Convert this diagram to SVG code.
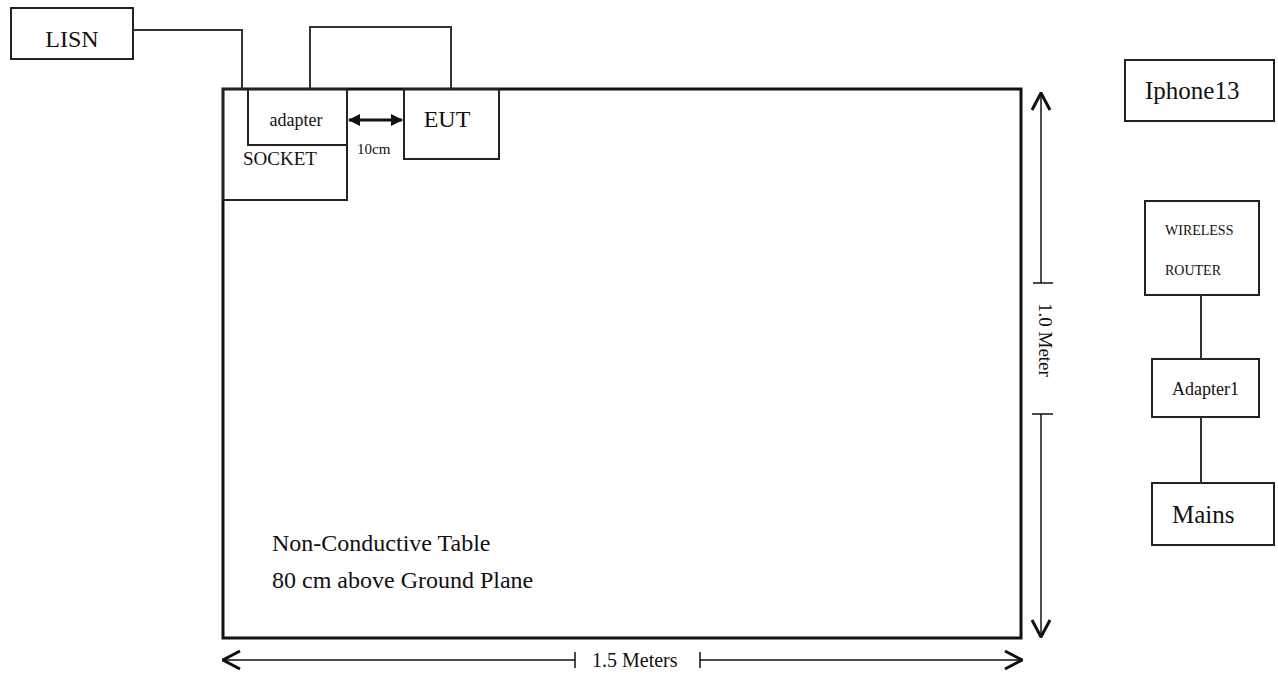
<svg xmlns="http://www.w3.org/2000/svg" width="1278" height="675" viewBox="0 0 1278 675">
<defs>
<style>
.box{fill:none;stroke:#222;stroke-width:2}
.ln{fill:none;stroke:#333;stroke-width:2}
.t{font-family:"Liberation Serif","Times New Roman",serif;fill:#111}
</style>
<marker id="ah" viewBox="0 0 20 22" refX="19" refY="11" markerWidth="20" markerHeight="22" markerUnits="userSpaceOnUse" orient="auto-start-reverse">
<path d="M2,2 L19,11 L2,20" fill="none" stroke="#111" stroke-width="3"/>
</marker>
<marker id="fa" viewBox="0 0 12 12" refX="11" refY="6" markerWidth="12" markerHeight="12" markerUnits="userSpaceOnUse" orient="auto-start-reverse">
<path d="M0,0 L12,6 L0,12 Z" fill="#111"/>
</marker>
</defs>
<rect width="1278" height="675" fill="#fff"/>
<g id="table">
<rect x="223" y="89" width="798" height="549" fill="none" stroke="#111" stroke-width="3"/>
<text class="t" x="272" y="551" font-size="24">Non-Conductive Table</text>
<text class="t" x="272" y="588" font-size="24">80 cm above Ground Plane</text>
</g>
<g id="lisn"><rect class="box" x="11" y="8" width="122" height="51"/><text class="t" x="72" y="47" font-size="24" text-anchor="middle">LISN</text></g>
<g id="socket"><rect class="box" x="223" y="89" width="124" height="111"/><text class="t" x="243" y="165" font-size="19">SOCKET</text></g>
<g id="adapter"><rect class="box" x="248" y="89" width="99" height="56"/><text class="t" x="296" y="126" font-size="18" text-anchor="middle">adapter</text></g>
<g id="eut"><rect class="box" x="404" y="89" width="95" height="70"/><text class="t" x="447" y="127" font-size="24" text-anchor="middle">EUT</text></g>
<g id="iphone"><rect class="box" x="1125" y="60" width="149" height="61"/><text class="t" x="1145" y="99" font-size="25">Iphone13</text></g>
<g id="router"><rect class="box" x="1145" y="201" width="114" height="94"/><text class="t" x="1165" y="235" font-size="14">WIRELESS</text><text class="t" x="1165" y="275" font-size="14">ROUTER</text></g>
<g id="adapter1"><rect class="box" x="1152" y="359" width="107" height="58"/><text class="t" x="1172" y="395" font-size="18">Adapter1</text></g>
<g id="mains"><rect class="box" x="1152" y="483" width="122" height="62"/><text class="t" x="1172" y="523" font-size="25">Mains</text></g>
<g id="connectors">
<polyline class="ln" points="133,30 242,30 242,89"/>
<polyline class="ln" points="310,89 310,27 451,27 451,89"/>
<line x1="349" y1="120" x2="402" y2="120" stroke="#111" stroke-width="3" marker-start="url(#fa)" marker-end="url(#fa)"/>
<line class="ln" x1="1201" y1="295" x2="1201" y2="359"/>
<line class="ln" x1="1201" y1="417" x2="1201" y2="483"/>
<line x1="1041" y1="283" x2="1041" y2="93" stroke="#111" stroke-width="1.5" marker-end="url(#ah)"/>
<line x1="1033" y1="283" x2="1053" y2="283" stroke="#111" stroke-width="1.5"/>
<line x1="1041" y1="414" x2="1041" y2="637" stroke="#111" stroke-width="1.5" marker-end="url(#ah)"/>
<line x1="1032" y1="414" x2="1053" y2="414" stroke="#111" stroke-width="1.5"/>
<line x1="575" y1="660" x2="223" y2="660" stroke="#111" stroke-width="1.5" marker-end="url(#ah)"/>
<line x1="575" y1="652" x2="575" y2="668" stroke="#111" stroke-width="1.5"/>
<line x1="700" y1="660" x2="1022" y2="660" stroke="#111" stroke-width="1.5" marker-end="url(#ah)"/>
<line x1="700" y1="652" x2="700" y2="668" stroke="#111" stroke-width="1.5"/>
</g>
<text class="t" x="357" y="154" font-size="15">10cm</text>
<text class="t" x="592" y="667" font-size="20">1.5 Meters</text>
<text class="t" transform="translate(1039,303) rotate(90)" font-size="19">1.0 Meter</text>
</svg>
